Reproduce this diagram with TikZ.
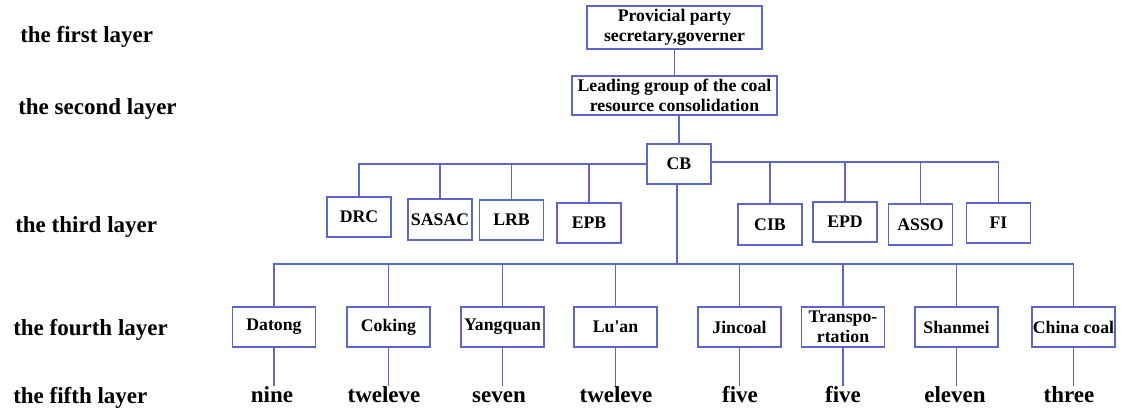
\documentclass[tikz,border=0pt]{standalone}
\usepackage{fontspec}
\setmainfont{Liberation Serif}
\definecolor{bc}{RGB}{92,102,200}
\begin{document}
\begin{tikzpicture}[x=0.75pt,y=-0.75pt,
  box/.style={draw=bc,line width=0.9pt,inner sep=0pt,align=center,
    font=\bfseries\fontsize{13.3}{15}\selectfont},
  b3/.style={box,minimum width=64*0.75pt,minimum height=40*0.75pt},
  b4/.style={box,minimum width=83*0.75pt,minimum height=40*0.75pt},
  lay/.style={anchor=base west,inner sep=0pt,font=\bfseries\fontsize{17.25}{20}\selectfont},
  num/.style={anchor=base,inner sep=0pt,inner ysep=4.5pt,text height=0.7em,text depth=0.2em,
    font=\bfseries\fontsize{17.25}{20}\selectfont},
  con/.style={draw=bc,line width=0.9pt}]
\useasboundingbox (0,0) rectangle (1121,408);

% layer labels
\node[lay] (L1) at (20,42) {the first layer};
\node[lay] (L2) at (18,114) {the second layer};
\node[lay] (L3) at (15,232) {the third layer};
\node[lay] (L4) at (13,335) {the fourth layer};
\node[lay] (L5) at (13,403) {the fifth layer};

% top
\node[box,minimum width=175*0.75pt,minimum height=43*0.75pt] (top) at (674.5,27.5) {Provicial party\\secretary,governer};
\node[box,minimum width=205*0.75pt,minimum height=39*0.75pt] (lead) at (674.5,95.5) {Leading group of the coal\\resource consolidation};
\node[b3] (CB) at (679,164) {CB};

% third layer
\node[b3] (DRC) at (359,217) {DRC};
\node[b3,minimum height=41*0.75pt] (SASAC) at (440,219.5) {SASAC};
\node[b3] (LRB) at (511.5,220) {LRB};
\node[b3] (EPB) at (589,223) {EPB};
\node[b3,minimum height=41*0.75pt] (CIB) at (770,224.5) {CIB};
\node[b3] (EPD) at (845,222) {EPD};
\node[b3,minimum height=41*0.75pt] (ASSO) at (920.5,224.5) {ASSO};
\node[b3] (FI) at (998.5,223) {FI};

% fourth layer
\node[b4] (D) at (274,327) {Datong};
\node[b4] (Co) at (388.5,327) {Coking};
\node[b4] (Y) at (502.5,327) {Yangquan};
\node[b4] (Lu) at (615.5,327) {Lu\textquotesingle an};
\node[b4] (J) at (739.5,327) {Jincoal};
\node[b4] (T) at (843,327) {Transpo-\\rtation};
\node[b4] (S) at (956.5,327) {Shanmei};
\node[b4] (Ch) at (1073.5,327) {China coal};

% fifth layer
\node[num] (nD) at (272,402) {nine};
\node[num] (nCo) at (384,402) {tweleve};
\node[num] (nY) at (499,402) {seven};
\node[num] (nLu) at (616,402) {tweleve};
\node[num] (nJ) at (740,402) {five};
\node[num] (nT) at (843,402) {five};
\node[num] (nS) at (955,402) {eleven};
\node[num] (nCh) at (1069,402) {three};

% connectors
\draw[con] (top.south) -- (lead.north);
\draw[con] (lead.south -| CB.north) -- (CB.north);
\foreach \n in {DRC,SASAC,LRB,EPB} \draw[con] (\n.north) |- (CB.west);
\foreach \n in {CIB,EPD,ASSO,FI} \draw[con] (\n.north) |- ([yshift=1.5pt]CB.east);
\coordinate (bus) at (677,264);
\draw[con] (CB.south -| bus) -- (bus);
\foreach \n in {D,Co,Y,Lu,J,T,S,Ch} {
  \draw[con] (\n.north) |- (bus);
  \draw[con] (\n.south) -- (\n.south |- n\n.north);
}
\end{tikzpicture}
\end{document}
